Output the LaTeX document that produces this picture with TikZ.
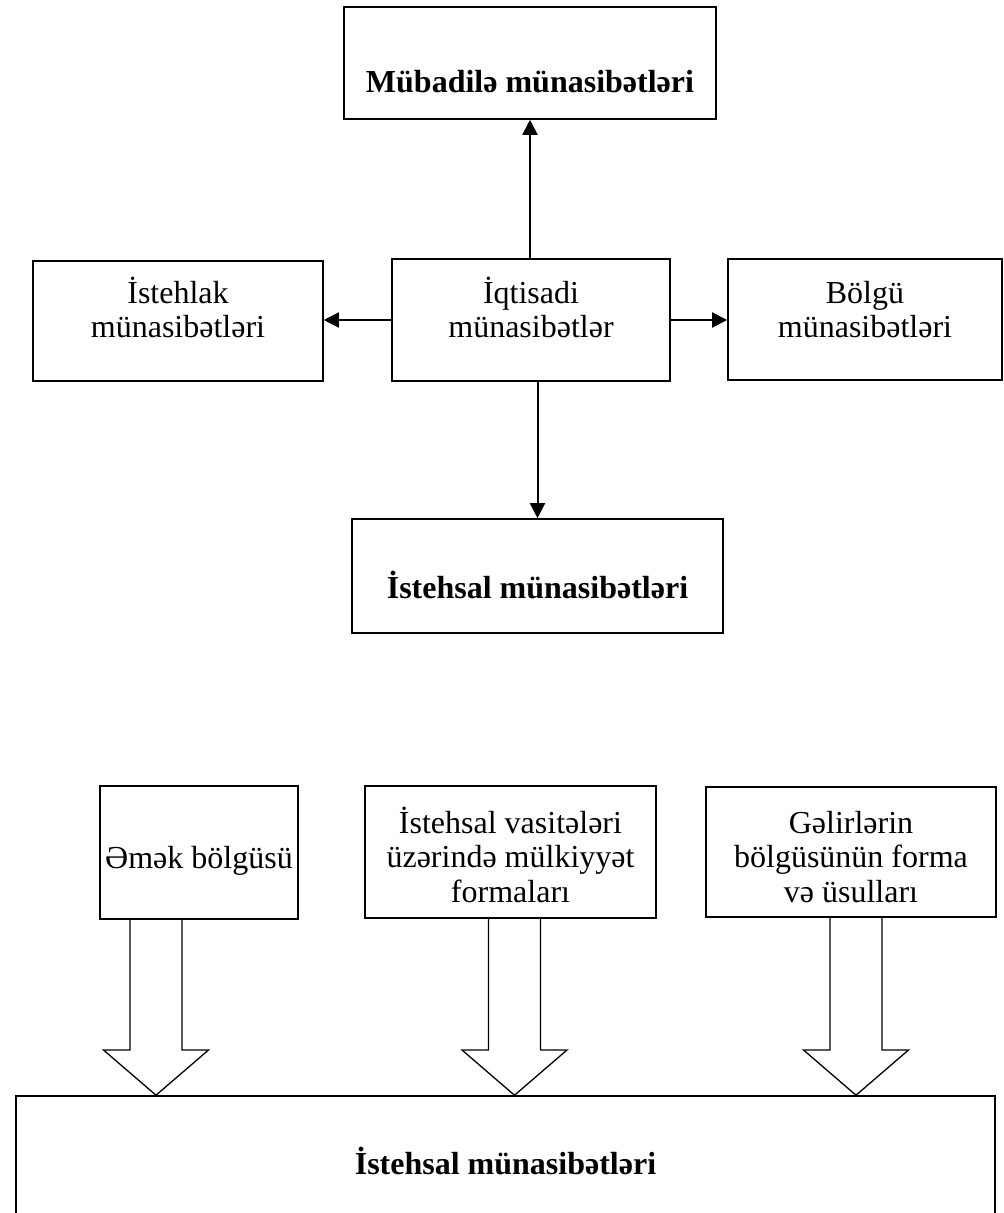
\documentclass[tikz,border=0pt]{standalone}
\usepackage{fontspec}
\setmainfont{Liberation Serif}
\usetikzlibrary{arrows.meta}
\newcommand\boxtxt[2]{\raisebox{#1}[0pt][0pt]{\begin{tabular}[t]{@{}c@{}}#2\end{tabular}}}
\begin{document}
\begin{tikzpicture}[x=1pt,y=-1pt,
  box/.style={draw, line width=1.6pt, inner sep=0pt, font=\fontsize{32}{34.5}\selectfont},
  conn/.style={line width=2pt, -{Triangle[length=15pt,width=15pt]}},
  barrow/.style={line width=1.3pt, line join=miter}]
\useasboundingbox (0,0) rectangle (1004,1213);
\clip (0,0) rectangle (1004,1213);
\fill[white] (0,0) rectangle (1004,1213);

% top part
\node[box, minimum width=372pt, minimum height=112pt] (mub) at (530,63)
  {\boxtxt{-29pt}{\textbf{Mübadilə münasibətləri}}};
\node[box, minimum width=278pt, minimum height=122pt] (iqt) at (531,320)
  {\boxtxt{17pt}{İqtisadi\\münasibətlər}};
\node[box, minimum width=290pt, minimum height=120pt] (isth) at (178,321)
  {\boxtxt{18pt}{İstehlak\\münasibətləri}};
\node[box, minimum width=274pt, minimum height=121pt] (bol) at (865,319.5)
  {\boxtxt{16.5pt}{Bölgü\\münasibətləri}};
\node[box, minimum width=371pt, minimum height=114pt] (ist1) at (537.5,576)
  {\boxtxt{-22pt}{\textbf{İstehsal münasibətləri}}};

\draw[conn] (mub.south |- iqt.north) -- (mub.south);
\draw[conn] (iqt.west) -- (iqt.west -| isth.east);
\draw[conn] (iqt.east) -- (iqt.east -| bol.west);
\draw[conn] (ist1.north |- iqt.south) -- (ist1.north);

% bottom part
\node[box, minimum width=198pt, minimum height=133pt] (emek) at (199,852.5)
  {\boxtxt{-16pt}{Əmək bölgüsü}};
\node[box, minimum width=291pt, minimum height=132pt] (vas) at (510.5,852)
  {\boxtxt{19pt}{İstehsal vasitələri\\üzərində mülkiyyət\\formaları}};
\node[box, minimum width=290pt, minimum height=130pt] (gel) at (851,852)
  {\boxtxt{19pt}{Gəlirlərin\\bölgüsünün forma\\və üsulları}};
\node[box, minimum width=979pt, minimum height=154pt] (big) at (505.5,1173)
  {\boxtxt{-1pt}{\textbf{İstehsal münasibətləri}}};

\draw[barrow] (130,0 |- emek.south) -- (130,1050) -- (103.5,1050) -- (156,0 |- big.north)
  -- (208.5,1050) -- (182,1050) -- (182,0 |- emek.south);
\draw[barrow] (488.5,0 |- vas.south) -- (488.5,1050) -- (462,1050) -- (514.5,0 |- big.north)
  -- (567,1050) -- (540.5,1050) -- (540.5,0 |- vas.south);
\draw[barrow] (830,0 |- gel.south) -- (830,1050) -- (803.5,1050) -- (856,0 |- big.north)
  -- (908.5,1050) -- (882,1050) -- (882,0 |- gel.south);
\end{tikzpicture}
\end{document}
